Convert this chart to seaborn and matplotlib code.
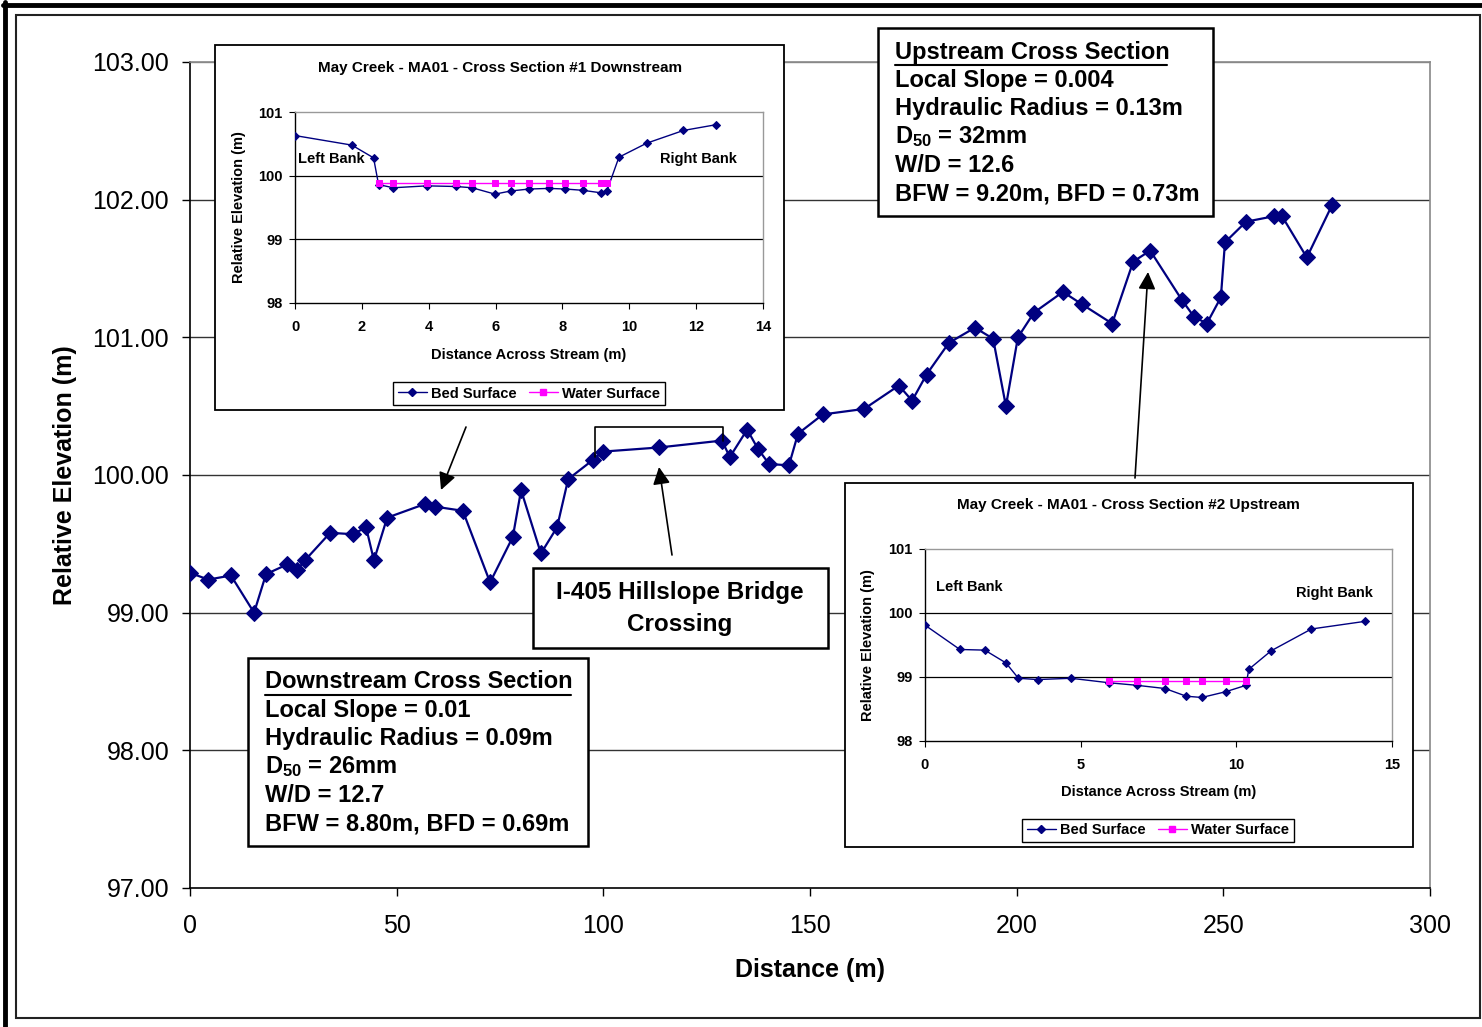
import numpy as np
import pandas as pd
import matplotlib
matplotlib.use("Agg")
import matplotlib.pyplot as plt
import seaborn as sns
from matplotlib.patches import Rectangle, FancyArrowPatch
from matplotlib.lines import Line2D

# ---------------- data ----------------
profile_distance = [0, 4.4, 9.9, 15.5, 18.4, 23.5, 25.9, 27.8, 33.9, 39.4, 42.6, 44.5, 47.7,
                    56.9, 59.3, 66.0, 72.6, 78.1, 80.1, 84.9, 88.8, 91.5, 97.5, 99.9, 113.5,
                    128.7, 130.6, 134.8, 137.4, 140.1, 144.9, 147.1, 153.1, 163.1, 171.5, 174.7,
                    178.2, 183.6, 189.9, 194.3, 197.4, 200.3, 204.2, 211.2, 215.8, 223.1, 228.2,
                    232.3, 240.0, 242.9, 246.0, 249.4, 250.4, 255.5, 262.3, 264.2, 270.2, 276.3]
profile_elev = [99.29, 99.24, 99.27, 99.00, 99.28, 99.35, 99.31, 99.38, 99.58, 99.57, 99.62, 99.38,
                99.69, 99.79, 99.77, 99.74, 99.22, 99.55, 99.89, 99.43, 99.62, 99.97, 100.11, 100.17,
                100.20, 100.25, 100.13, 100.33, 100.19, 100.08, 100.07, 100.30, 100.44, 100.48,
                100.65, 100.54, 100.73, 100.96, 101.07, 100.99, 100.50, 101.00, 101.18, 101.33,
                101.24, 101.10, 101.55, 101.63, 101.27, 101.15, 101.10, 101.29, 101.69, 101.84,
                101.88, 101.88, 101.58, 101.96]

xs1_bed_x = [0, 1.70, 2.35, 2.50, 2.94, 3.94, 4.81, 5.30, 5.98, 6.46, 7.00, 7.60, 8.09, 8.61,
             9.16, 9.33, 9.69, 10.52, 11.62, 12.59]
xs1_bed_y = [100.63, 100.48, 100.28, 99.86, 99.81, 99.84, 99.83, 99.81, 99.71, 99.76, 99.79,
             99.80, 99.79, 99.77, 99.73, 99.76, 100.29, 100.51, 100.71, 100.80]
xs1_ws_x = [2.50, 2.94, 3.94, 4.81, 5.30, 5.98, 6.46, 7.00, 7.60, 8.09, 8.61, 9.16, 9.33]
xs1_ws_y = [99.89] * 13

xs2_bed_x = [0, 1.12, 1.92, 2.60, 3.00, 3.62, 4.69, 5.91, 6.81, 7.71, 8.39, 8.89, 9.66, 10.31,
             10.40, 11.12, 12.41, 14.14]
xs2_bed_y = [99.81, 99.43, 99.42, 99.22, 98.98, 98.96, 98.98, 98.91, 98.87, 98.82, 98.70, 98.68,
             98.77, 98.87, 99.12, 99.41, 99.75, 99.87]
xs2_ws_x = [5.91, 6.81, 7.71, 8.39, 8.89, 9.66, 10.31]
xs2_ws_y = [98.94] * 7

main_xticks = [0, 50, 100, 150, 200, 250, 300]
main_yticks = [97, 98, 99, 100, 101, 102, 103]

upstream_lines = ["Upstream Cross Section", "Local Slope = 0.004", "Hydraulic Radius = 0.13m",
                  r"$\mathbf{D_{50}}$ = 32mm", "W/D = 12.6", "BFW = 9.20m, BFD = 0.73m"]
downstream_lines = ["Downstream Cross Section", "Local Slope = 0.01", "Hydraulic Radius = 0.09m",
                    r"$\mathbf{D_{50}}$ = 26mm", "W/D = 12.7", "BFW = 8.80m, BFD = 0.69m"]

# ---------------- style ----------------
sns.set_style("white")
plt.rcParams['font.family'] = ['Liberation Sans', 'DejaVu Sans']
plt.rcParams['mathtext.fontset'] = 'custom'
plt.rcParams['mathtext.rm'] = 'Liberation Sans'
plt.rcParams['mathtext.bf'] = 'Liberation Sans:bold'
for k in ['text.color', 'axes.labelcolor', 'xtick.color', 'ytick.color']:
    plt.rcParams[k] = 'black'

W, H = 1482, 1027
fig = plt.figure(figsize=(W / 100, H / 100), dpi=100)
fig.patch.set_facecolor('white')


def fx(px):
    return px / W


def fy(py):
    return 1 - py / H


NAVY = '#000080'
GRID = '#333333'

# outer frames
fig.add_artist(Line2D([fx(5), fx(5)], [fy(2), fy(1027)], color='black', lw=3.5, zorder=0.5))
fig.add_artist(Line2D([fx(3), fx(1482)], [fy(4.5), fy(4.5)], color='black', lw=3.5, zorder=0.5))
fig.add_artist(Rectangle((fx(16), fy(1018)), fx(1480) - fx(16), (1018 - 15) / H,
                         transform=fig.transFigure, fill=False, ec='#222222', lw=1.5, zorder=0.5))

# ---------------- main axes ----------------
ax = fig.add_axes([fx(190), fy(888), (1430 - 190) / W, (888 - 62) / H])
ax.set_facecolor('none')
sns.lineplot(x=profile_distance, y=profile_elev, ax=ax, sort=False, estimator=None,
             color=NAVY, linewidth=1.6, marker='D', markersize=8.5,
             markeredgecolor=NAVY, markerfacecolor=NAVY, zorder=3)
ax.set_xlim(0, 300)
ax.set_ylim(97, 103)
ax.set_xticks(main_xticks)
ax.set_yticks(main_yticks)
ax.set_yticklabels([f"{v:.2f}" for v in main_yticks])
ax.tick_params(axis='both', labelsize=18, direction='out', length=6, width=1, color='black',
               labelcolor='black', left=True, bottom=True)
ax.tick_params(axis='y', pad=9)
ax.tick_params(axis='x', pad=13)
for v in main_yticks[1:]:
    ax.axhline(v, color=GRID if v != 103 else '#888888', lw=1.0, zorder=1)
ax.spines['left'].set_color('black')
ax.spines['bottom'].set_color('black')
ax.spines['right'].set_color('#888888')
ax.spines['top'].set_color('#888888')
for s in ax.spines.values():
    s.set_linewidth(1.2)
ax.set_xlabel("Distance (m)", fontsize=18, fontweight='bold')
ax.set_ylabel("Relative Elevation (m)", fontsize=18, fontweight='bold')
ax.xaxis.set_label_coords(0.5, -(958 - 888) / 826)
ax.yaxis.set_label_coords((77 - 190) / 1240, 0.5)
ax.grid(False)


# ---------------- inset helper ----------------
def make_inset(box, plot, bx, by, wx, wy, xlim, xticks, title, title_xy, leg_xy,
               bank_left, bank_right, xlab_y, ylab_x):
    x0, y0, x1, y1 = box
    fig.add_artist(Rectangle((fx(x0), fy(y1)), (x1 - x0) / W, (y1 - y0) / H,
                             transform=fig.transFigure, fc='white', ec='black', lw=1.3, zorder=2))
    px0, py0, px1, py1 = plot
    iax = fig.add_axes([fx(px0), fy(py1), (px1 - px0) / W, (py1 - py0) / H], zorder=3)
    iax.set_facecolor('white')
    sns.lineplot(x=bx, y=by, ax=iax, sort=False, estimator=None, color=NAVY, linewidth=1.0,
                 marker='D', markersize=4, markeredgecolor=NAVY, zorder=3)
    sns.lineplot(x=wx, y=wy, ax=iax, sort=False, estimator=None, color='#FF00FF', linewidth=1.0,
                 marker='s', markersize=5, markeredgecolor='#FF00FF', zorder=4)
    iax.set_xlim(*xlim)
    iax.set_ylim(98, 101)
    iax.set_xticks(xticks)
    iax.set_yticks([98, 99, 100, 101])
    iax.tick_params(axis='both', labelsize=10.5, direction='out', length=4, width=0.8,
                    left=True, bottom=True, color='black', labelcolor='black')
    iax.tick_params(axis='y', pad=5)
    iax.tick_params(axis='x', pad=8)
    for lab in iax.get_xticklabels() + iax.get_yticklabels():
        lab.set_fontweight('bold')
    for v in [99, 100]:
        iax.axhline(v, color='black', lw=0.9, zorder=1)
    iax.spines['left'].set_color('black')
    iax.spines['bottom'].set_color('black')
    iax.spines['right'].set_color('#999999')
    iax.spines['top'].set_color('#999999')
    for s in iax.spines.values():
        s.set_linewidth(1.0)
    iax.set_xlabel("Distance Across Stream (m)", fontsize=10.5, fontweight='bold')
    iax.set_ylabel("Relative Elevation (m)", fontsize=10.5, fontweight='bold')
    iax.xaxis.set_label_coords(0.5, xlab_y)
    iax.yaxis.set_label_coords(ylab_x, 0.5)
    iax.grid(False)
    iax.text(bank_left[0], bank_left[1], "Left Bank", fontsize=10.5, fontweight='bold',
             ha='left', va='center')
    iax.text(bank_right[0], bank_right[1], "Right Bank", fontsize=10.5, fontweight='bold',
             ha='left', va='center')
    fig.text(fx(title_xy[0]), fy(title_xy[1]), title, fontsize=11, fontweight='bold',
             ha='center', va='center', zorder=4)
    handles = [Line2D([], [], color=NAVY, lw=1.0, marker='D', markersize=4),
               Line2D([], [], color='#FF00FF', lw=1.0, marker='s', markersize=5)]
    leg = fig.legend(handles, ["Bed Surface", "Water Surface"], loc='center',
                     bbox_to_anchor=(fx(leg_xy[0]), fy(leg_xy[1])), ncol=2, frameon=True,
                     fancybox=False, edgecolor='black', framealpha=1,
                     prop={'weight': 'bold', 'size': 10.5}, handlelength=2.0,
                     handletextpad=0.3, columnspacing=0.8, borderpad=0.3)
    leg.set_zorder(5)
    leg.get_frame().set_linewidth(1.0)
    return iax


make_inset((215, 45, 784, 410), (295, 112, 763, 303), xs1_bed_x, xs1_bed_y, xs1_ws_x, xs1_ws_y,
           (0, 14), [0, 2, 4, 6, 8, 10, 12, 14],
           "May Creek - MA01 - Cross Section #1 Downstream", (500, 68), (529, 393.5),
           (0.09, 100.26), (10.92, 100.26), -(348 - 303) / 191, (246 - 295) / 468)

make_inset((845, 483, 1413, 847), (925, 549, 1392, 741), xs2_bed_x, xs2_bed_y, xs2_ws_x, xs2_ws_y,
           (0, 15), [0, 5, 10, 15],
           "May Creek - MA01 - Cross Section #2 Upstream", (1128, 505), (1158, 830.5),
           (0.35, 100.41), (11.92, 100.31), -(785 - 741) / 192, (875 - 925) / 467)


# ---------------- text boxes ----------------
def text_box(box, lines, tx, ys, underline_to):
    x0, y0, x1, y1 = box
    fig.add_artist(Rectangle((fx(x0), fy(y1)), (x1 - x0) / W, (y1 - y0) / H,
                             transform=fig.transFigure, fc='white', ec='black', lw=1.8, zorder=2))
    for line, yy in zip(lines, ys):
        fig.text(fx(tx), fy(yy), line, fontsize=17, fontweight='bold', ha='left', va='center',
                 zorder=4)
    fig.add_artist(Line2D([fx(tx), fx(underline_to)], [fy(ys[0] + 12.5), fy(ys[0] + 12.5)],
                          color='black', lw=1.5, zorder=4))


text_box((878, 28, 1213, 216), upstream_lines, 895, [52, 80, 109, 137, 166, 194], 1167)
text_box((248, 658, 588, 846), downstream_lines, 265, [682, 711, 739, 767, 796, 824], 571)

# I-405 box
fig.add_artist(Rectangle((fx(533), fy(648)), (828 - 533) / W, (648 - 568) / H,
                         transform=fig.transFigure, fc='white', ec='black', lw=1.8, zorder=2))
fig.text(fx(680), fy(593), "I-405 Hillslope Bridge", fontsize=17.5, fontweight='bold',
         ha='center', va='center', zorder=4)
fig.text(fx(680), fy(624), "Crossing", fontsize=17.5, fontweight='bold',
         ha='center', va='center', zorder=4)

# ---------------- arrows and bracket ----------------
for (tx_, ty_), (hx, hy) in [((466, 427), (441, 490)), ((672, 555), (659, 467)),
                             ((1135, 478), (1148, 272))]:
    fig.add_artist(FancyArrowPatch((fx(tx_), fy(ty_)), (fx(hx), fy(hy)),
                                   transform=fig.transFigure, arrowstyle='-|>',
                                   mutation_scale=26, color='black', lw=1.2, zorder=1.5,
                                   shrinkA=0, shrinkB=0))

fig.add_artist(Line2D([fx(595), fx(595), fx(723), fx(723)],
                      [fy(457), fy(427), fy(427), fy(441)], color='black', lw=1.2, zorder=1.5))

fig.savefig("out.png", dpi=100, facecolor='white')
